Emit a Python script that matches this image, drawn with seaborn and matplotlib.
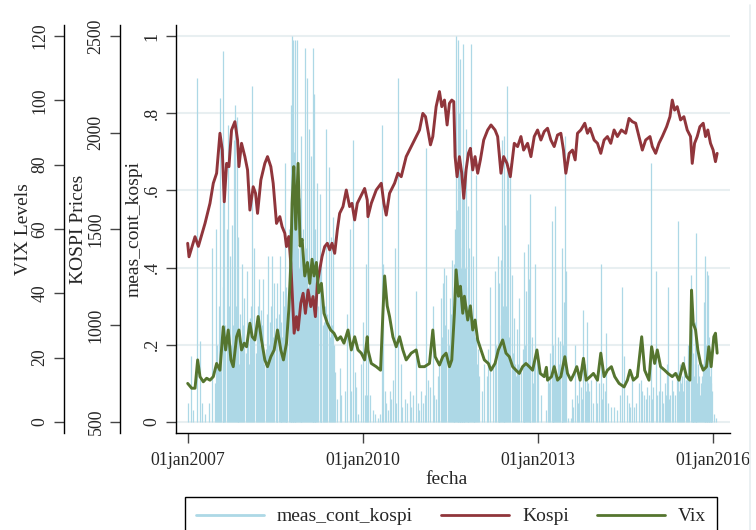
import numpy as np
import pandas as pd
import matplotlib
matplotlib.use("Agg")
import matplotlib.pyplot as plt
import seaborn as sns
from matplotlib.lines import Line2D

# ---------------- data (decimal year, value) ----------------
kospi_points = [
    (2006.994, 1426), (2007.017, 1356), (2007.120, 1460), (2007.177, 1410), (2007.291, 1529),
    (2007.376, 1633), (2007.433, 1737), (2007.490, 1789), (2007.547, 1996), (2007.587, 1909),
    (2007.621, 1641), (2007.661, 1840), (2007.701, 1823), (2007.746, 2013), (2007.803, 2056),
    (2007.849, 1961), (2007.872, 1823), (2007.917, 1944), (2007.974, 1875), (2008.020, 1806),
    (2008.060, 1598), (2008.117, 1719), (2008.157, 1685), (2008.191, 1581), (2008.248, 1754),
    (2008.316, 1840), (2008.362, 1875), (2008.419, 1823), (2008.459, 1737), (2008.516, 1529),
    (2008.573, 1564), (2008.612, 1512), (2008.658, 1478), (2008.687, 1409), (2008.726, 1461),
    (2008.761, 1322), (2008.783, 1184), (2008.818, 960), (2008.858, 1046), (2008.886, 977),
    (2008.932, 1115), (2008.972, 1167), (2009.011, 1063), (2009.057, 1184), (2009.103, 1098),
    (2009.142, 1150), (2009.182, 1046), (2009.216, 1219), (2009.256, 1288), (2009.296, 1357),
    (2009.342, 1409), (2009.387, 1426), (2009.427, 1392), (2009.467, 1426), (2009.513, 1374),
    (2009.558, 1495), (2009.598, 1581), (2009.655, 1616), (2009.712, 1702), (2009.769, 1616),
    (2009.809, 1633), (2009.855, 1547), (2009.900, 1633), (2009.957, 1668), (2010.026, 1710),
    (2010.071, 1650), (2010.083, 1564), (2010.140, 1633), (2010.225, 1702), (2010.311, 1737),
    (2010.356, 1633), (2010.396, 1572), (2010.453, 1685), (2010.539, 1737), (2010.596, 1789),
    (2010.653, 1771), (2010.738, 1875), (2010.824, 1927), (2010.909, 1979), (2010.966, 2013),
    (2011.023, 2099), (2011.069, 2082), (2011.109, 2013), (2011.154, 1936), (2011.194, 1979),
    (2011.251, 2134), (2011.308, 2212), (2011.348, 2134), (2011.394, 2168), (2011.439, 2039),
    (2011.479, 2151), (2011.519, 2168), (2011.553, 2160), (2011.576, 1875), (2011.610, 1771),
    (2011.650, 1875), (2011.690, 1789), (2011.724, 1659), (2011.764, 1806), (2011.804, 1892),
    (2011.838, 1918), (2011.878, 1806), (2011.918, 1875), (2011.963, 1789), (2012.009, 1858),
    (2012.066, 1961), (2012.134, 2013), (2012.191, 2039), (2012.260, 2013), (2012.305, 1979),
    (2012.362, 1789), (2012.408, 1875), (2012.465, 1840), (2012.522, 1771), (2012.590, 1944),
    (2012.647, 1927), (2012.704, 1979), (2012.750, 1909), (2012.818, 1944), (2012.875, 1875),
    (2012.932, 1979), (2012.989, 2013), (2013.046, 1961), (2013.103, 2005), (2013.160, 2022),
    (2013.217, 1961), (2013.274, 1927), (2013.331, 1987), (2013.388, 1996), (2013.433, 1909),
    (2013.473, 1789), (2013.530, 1892), (2013.587, 1909), (2013.633, 1858), (2013.673, 1996),
    (2013.730, 2013), (2013.798, 2048), (2013.844, 1996), (2013.889, 2022), (2013.958, 1961),
    (2014.015, 1944), (2014.072, 1892), (2014.129, 1961), (2014.186, 1979), (2014.243, 1944),
    (2014.300, 2013), (2014.357, 1979), (2014.425, 2013), (2014.499, 1996), (2014.556, 2073),
    (2014.613, 2056), (2014.670, 2048), (2014.727, 1979), (2014.784, 1909), (2014.841, 1961),
    (2014.915, 1979), (2014.955, 1927), (2015.012, 1892), (2015.069, 1944), (2015.126, 1979),
    (2015.200, 2030), (2015.257, 2082), (2015.297, 2168), (2015.337, 2116), (2015.382, 2134),
    (2015.439, 2065), (2015.496, 2082), (2015.553, 2013), (2015.610, 1979), (2015.639, 1840),
    (2015.679, 1944), (2015.724, 1979), (2015.770, 2030), (2015.827, 2048), (2015.867, 1979),
    (2015.906, 2013), (2015.952, 1944), (2015.997, 1909), (2016.037, 1849), (2016.066, 1892),
]

vix_points = [
    (2006.994, 12.0), (2007.063, 10.5), (2007.120, 10.5), (2007.165, 19.3), (2007.205, 14.1),
    (2007.262, 12.5), (2007.319, 13.6), (2007.376, 13.0), (2007.433, 14.1), (2007.490, 18.2),
    (2007.547, 16.1), (2007.604, 29.6), (2007.644, 22.4), (2007.689, 28.6), (2007.735, 19.3),
    (2007.775, 17.2), (2007.832, 26.5), (2007.872, 28.6), (2007.917, 22.4), (2007.963, 24.5),
    (2008.003, 23.4), (2008.060, 30.7), (2008.100, 26.5), (2008.145, 25.5), (2008.202, 32.8),
    (2008.259, 25.5), (2008.316, 19.3), (2008.362, 17.2), (2008.419, 20.3), (2008.476, 22.4),
    (2008.533, 28.6), (2008.590, 22.4), (2008.635, 19.3), (2008.687, 24.5), (2008.726, 34.8),
    (2008.761, 49.3), (2008.783, 68.0), (2008.812, 79.4), (2008.846, 59.9), (2008.886, 80.4),
    (2008.920, 54.7), (2008.954, 56.8), (2009.000, 45.4), (2009.046, 49.6), (2009.086, 43.1),
    (2009.125, 50.6), (2009.159, 45.4), (2009.199, 49.6), (2009.239, 40.2), (2009.285, 43.1),
    (2009.330, 33.8), (2009.387, 30.7), (2009.444, 28.6), (2009.501, 27.6), (2009.558, 25.5),
    (2009.615, 26.5), (2009.672, 24.5), (2009.741, 28.6), (2009.798, 22.4), (2009.855, 26.5),
    (2009.912, 22.4), (2009.969, 21.4), (2010.026, 19.3), (2010.071, 26.5), (2010.083, 22.4),
    (2010.140, 18.2), (2010.225, 17.2), (2010.299, 16.1), (2010.339, 33.8), (2010.368, 45.4),
    (2010.413, 36.1), (2010.453, 32.8), (2010.510, 26.5), (2010.567, 23.4), (2010.624, 26.5),
    (2010.681, 22.4), (2010.738, 19.3), (2010.824, 21.4), (2010.909, 22.4), (2010.966, 17.2),
    (2011.052, 17.2), (2011.137, 18.2), (2011.194, 28.6), (2011.234, 20.3), (2011.308, 17.7),
    (2011.365, 20.3), (2011.422, 21.4), (2011.479, 17.2), (2011.519, 19.3), (2011.564, 33.8),
    (2011.593, 47.3), (2011.633, 39.1), (2011.667, 42.2), (2011.707, 33.8), (2011.735, 39.1),
    (2011.792, 31.7), (2011.838, 36.1), (2011.878, 28.6), (2011.918, 31.7), (2011.963, 25.5),
    (2012.020, 22.4), (2012.077, 19.3), (2012.146, 18.2), (2012.191, 16.1), (2012.260, 18.2),
    (2012.317, 22.4), (2012.391, 25.5), (2012.448, 21.4), (2012.505, 20.3), (2012.562, 17.2),
    (2012.619, 16.1), (2012.676, 15.1), (2012.733, 17.2), (2012.790, 18.2), (2012.847, 17.2),
    (2012.904, 16.1), (2012.978, 22.4), (2013.035, 15.1), (2013.103, 14.1), (2013.140, 17.0),
    (2013.160, 13.0), (2013.228, 14.1), (2013.274, 17.2), (2013.331, 13.0), (2013.388, 14.1),
    (2013.456, 20.3), (2013.502, 15.1), (2013.559, 13.0), (2013.616, 15.1), (2013.661, 17.2),
    (2013.718, 13.0), (2013.775, 19.8), (2013.821, 13.0), (2013.889, 14.1), (2013.946, 15.1),
    (2014.015, 13.0), (2014.072, 21.4), (2014.129, 14.1), (2014.186, 16.1), (2014.254, 17.2),
    (2014.311, 14.1), (2014.385, 12.0), (2014.471, 10.9), (2014.528, 13.0), (2014.573, 16.1),
    (2014.630, 13.0), (2014.698, 14.1), (2014.773, 26.5), (2014.824, 16.1), (2014.898, 13.0),
    (2014.943, 23.4), (2014.995, 18.2), (2015.040, 22.4), (2015.097, 17.2), (2015.166, 16.1),
    (2015.223, 15.1), (2015.297, 14.1), (2015.354, 15.1), (2015.411, 13.0), (2015.485, 18.2),
    (2015.542, 14.1), (2015.599, 13.0), (2015.627, 41.0), (2015.656, 30.7), (2015.696, 28.6),
    (2015.735, 22.4), (2015.781, 18.2), (2015.827, 16.1), (2015.884, 17.2), (2015.923, 23.4),
    (2015.963, 17.2), (2016.009, 26.5), (2016.037, 27.6), (2016.066, 21.4),
]

meas_points = [
    (2007.006, 0.05), (2007.051, 0.17), (2007.091, 0.03), (2007.154, 0.89), (2007.199, 0.21),
    (2007.234, 0.05), (2007.291, 0.02), (2007.359, 0.05), (2007.416, 0.45), (2007.462, 0.10),
    (2007.473, 0.50), (2007.490, 0.20), (2007.519, 0.15), (2007.536, 0.30), (2007.553, 0.84),
    (2007.570, 0.20), (2007.593, 0.96), (2007.604, 0.35), (2007.621, 0.57), (2007.638, 0.25),
    (2007.661, 0.50), (2007.678, 0.77), (2007.695, 0.30), (2007.718, 0.43), (2007.735, 0.20),
    (2007.746, 0.51), (2007.764, 0.25), (2007.781, 0.73), (2007.803, 0.82), (2007.821, 0.30),
    (2007.832, 0.79), (2007.849, 0.22), (2007.860, 0.48), (2007.877, 0.15), (2007.889, 0.28),
    (2007.906, 0.20), (2007.929, 0.41), (2007.946, 0.25), (2007.963, 0.32), (2007.986, 0.18),
    (2008.003, 0.39), (2008.020, 0.22), (2008.043, 0.15), (2008.060, 0.27), (2008.077, 0.30),
    (2008.100, 0.87), (2008.117, 0.22), (2008.134, 0.45), (2008.157, 0.18), (2008.174, 0.26),
    (2008.191, 0.30), (2008.214, 0.37), (2008.231, 0.20), (2008.248, 0.29), (2008.271, 0.25),
    (2008.288, 0.37), (2008.305, 0.15), (2008.328, 0.19), (2008.345, 0.28), (2008.373, 0.43),
    (2008.385, 0.20), (2008.402, 0.26), (2008.419, 0.30), (2008.442, 0.43), (2008.459, 0.22),
    (2008.476, 0.36), (2008.499, 0.27), (2008.516, 0.20), (2008.533, 0.36), (2008.556, 0.28),
    (2008.573, 0.43), (2008.590, 0.18), (2008.601, 0.26), (2008.618, 0.22), (2008.630, 0.34),
    (2008.647, 0.30), (2008.658, 0.67), (2008.675, 0.35), (2008.687, 0.24), (2008.704, 0.28),
    (2008.726, 0.50), (2008.744, 0.40), (2008.761, 0.82), (2008.772, 0.60), (2008.783, 1.00),
    (2008.795, 0.45), (2008.806, 0.99), (2008.818, 0.70), (2008.829, 0.50), (2008.840, 0.99),
    (2008.858, 0.55), (2008.875, 0.99), (2008.892, 0.45), (2008.903, 0.40), (2008.914, 0.58),
    (2008.932, 0.35), (2008.943, 0.74), (2008.960, 0.45), (2008.977, 0.50), (2008.994, 0.40),
    (2009.011, 0.97), (2009.028, 0.45), (2009.046, 0.89), (2009.057, 0.35), (2009.068, 0.76),
    (2009.086, 0.40), (2009.103, 0.69), (2009.120, 0.38), (2009.137, 0.97), (2009.148, 0.42),
    (2009.159, 0.85), (2009.171, 0.35), (2009.182, 0.50), (2009.199, 0.40), (2009.216, 0.62),
    (2009.234, 0.30), (2009.256, 0.59), (2009.274, 0.35), (2009.285, 0.41), (2009.308, 0.25),
    (2009.330, 0.26), (2009.348, 0.30), (2009.370, 0.76), (2009.387, 0.28), (2009.410, 0.66),
    (2009.427, 0.22), (2009.444, 0.48), (2009.462, 0.25), (2009.484, 0.53), (2009.496, 0.20),
    (2009.513, 0.13), (2009.558, 0.06), (2009.598, 0.14), (2009.627, 0.07), (2009.684, 0.08),
    (2009.729, 0.28), (2009.769, 0.50), (2009.798, 0.08), (2009.826, 0.73), (2009.855, 0.13),
    (2009.883, 0.09), (2009.912, 0.02), (2009.969, 0.15), (2009.997, 0.26), (2010.026, 0.07),
    (2010.054, 0.41), (2010.071, 0.07), (2010.083, 0.53), (2010.111, 0.07), (2010.168, 0.03),
    (2010.197, 0.02), (2010.254, 0.01), (2010.282, 0.02), (2010.322, 0.77), (2010.339, 0.41),
    (2010.368, 0.08), (2010.396, 0.05), (2010.425, 0.03), (2010.453, 0.08), (2010.482, 0.06),
    (2010.510, 0.11), (2010.550, 0.45), (2010.567, 0.05), (2010.596, 0.89), (2010.641, 0.15),
    (2010.670, 0.04), (2010.710, 0.06), (2010.755, 0.05), (2010.795, 0.08), (2010.824, 0.04),
    (2010.852, 0.07), (2010.898, 0.34), (2010.938, 0.05), (2010.966, 0.03), (2010.995, 0.08),
    (2011.023, 0.05), (2011.052, 0.07), (2011.074, 0.71), (2011.109, 0.11), (2011.154, 0.09),
    (2011.194, 0.30), (2011.223, 0.07), (2011.251, 0.06), (2011.280, 0.12), (2011.308, 0.15),
    (2011.337, 0.32), (2011.354, 0.22), (2011.371, 0.36), (2011.394, 0.40), (2011.411, 0.25),
    (2011.422, 0.38), (2011.451, 0.24), (2011.468, 0.20), (2011.485, 0.32), (2011.502, 0.28),
    (2011.519, 0.42), (2011.536, 0.30), (2011.553, 0.41), (2011.564, 0.35), (2011.582, 0.50),
    (2011.599, 1.00), (2011.610, 0.55), (2011.621, 0.99), (2011.633, 0.45), (2011.644, 0.80),
    (2011.656, 0.50), (2011.667, 0.94), (2011.678, 0.40), (2011.690, 0.58), (2011.701, 0.45),
    (2011.713, 0.98), (2011.724, 0.35), (2011.735, 0.65), (2011.752, 0.40), (2011.764, 0.76),
    (2011.781, 0.30), (2011.792, 0.56), (2011.804, 0.35), (2011.815, 0.45), (2011.832, 0.30),
    (2011.849, 0.98), (2011.866, 0.25), (2011.878, 0.43), (2011.895, 0.20), (2011.906, 0.24),
    (2011.923, 0.22), (2011.935, 0.64), (2011.952, 0.15), (2011.963, 0.19), (2011.992, 0.12),
    (2012.032, 0.08), (2012.077, 0.15), (2012.123, 0.12), (2012.146, 0.19), (2012.180, 0.35),
    (2012.220, 0.15), (2012.260, 0.39), (2012.277, 0.20), (2012.305, 0.43), (2012.322, 0.25),
    (2012.334, 0.36), (2012.351, 0.20), (2012.362, 0.42), (2012.379, 0.73), (2012.396, 0.30),
    (2012.408, 0.74), (2012.419, 0.25), (2012.431, 0.51), (2012.448, 0.30), (2012.465, 0.87),
    (2012.488, 0.65), (2012.505, 0.22), (2012.522, 0.67), (2012.545, 0.38), (2012.562, 0.18),
    (2012.579, 0.27), (2012.602, 0.15), (2012.619, 0.12), (2012.636, 0.24), (2012.659, 0.15),
    (2012.676, 0.32), (2012.704, 0.13), (2012.733, 0.19), (2012.750, 0.15), (2012.761, 0.44),
    (2012.778, 0.20), (2012.795, 0.34), (2012.807, 0.15), (2012.818, 0.46), (2012.841, 0.37),
    (2012.852, 0.20), (2012.864, 0.59), (2012.887, 0.22), (2012.904, 0.10), (2012.921, 0.15),
    (2012.943, 0.41), (2012.978, 0.17), (2013.000, 0.15), (2013.046, 0.07), (2013.131, 0.03),
    (2013.160, 0.12), (2013.188, 0.10), (2013.206, 0.18), (2013.228, 0.52), (2013.245, 0.20),
    (2013.257, 0.15), (2013.274, 0.15), (2013.285, 0.56), (2013.308, 0.11), (2013.325, 0.12),
    (2013.342, 0.22), (2013.359, 0.15), (2013.377, 0.21), (2013.399, 0.18), (2013.416, 0.45),
    (2013.433, 0.20), (2013.445, 0.31), (2013.456, 0.74), (2013.473, 0.39), (2013.502, 0.01),
    (2013.559, 0.01), (2013.587, 0.06), (2013.604, 0.04), (2013.633, 0.20), (2013.661, 0.07),
    (2013.684, 0.05), (2013.701, 0.11), (2013.730, 0.09), (2013.747, 0.06), (2013.764, 0.29),
    (2013.798, 0.15), (2013.815, 0.08), (2013.832, 0.26), (2013.855, 0.10), (2013.872, 0.08),
    (2013.901, 0.11), (2013.946, 0.05), (2013.986, 0.11), (2014.015, 0.05), (2014.043, 0.10),
    (2014.077, 0.41), (2014.100, 0.06), (2014.117, 0.10), (2014.140, 0.08), (2014.157, 0.23),
    (2014.197, 0.05), (2014.243, 0.04), (2014.300, 0.04), (2014.357, 0.03), (2014.402, 0.07),
    (2014.436, 0.35), (2014.471, 0.17), (2014.516, 0.07), (2014.556, 0.05), (2014.573, 0.04),
    (2014.613, 0.11), (2014.641, 0.04), (2014.670, 0.05), (2014.727, 0.10), (2014.755, 0.11),
    (2014.784, 0.08), (2014.812, 0.07), (2014.841, 0.06), (2014.869, 0.09), (2014.904, 0.07),
    (2014.932, 0.67), (2014.955, 0.06), (2014.972, 0.09), (2015.012, 0.39), (2015.040, 0.07),
    (2015.069, 0.08), (2015.086, 0.15), (2015.126, 0.08), (2015.143, 0.05), (2015.166, 0.10),
    (2015.183, 0.07), (2015.200, 0.15), (2015.217, 0.35), (2015.240, 0.06), (2015.257, 0.07),
    (2015.297, 0.11), (2015.314, 0.08), (2015.337, 0.07), (2015.371, 0.13), (2015.394, 0.52),
    (2015.411, 0.08), (2015.428, 0.15), (2015.451, 0.10), (2015.468, 0.12), (2015.485, 0.08),
    (2015.496, 0.17), (2015.525, 0.11), (2015.542, 0.12), (2015.565, 0.20), (2015.587, 0.15),
    (2015.610, 0.38), (2015.627, 0.24), (2015.644, 0.18), (2015.656, 0.15), (2015.667, 0.12),
    (2015.679, 0.26), (2015.696, 0.20), (2015.707, 0.49), (2015.724, 0.10), (2015.735, 0.15),
    (2015.753, 0.12), (2015.770, 0.07), (2015.787, 0.10), (2015.804, 0.12), (2015.821, 0.15),
    (2015.838, 0.31), (2015.850, 0.18), (2015.861, 0.43), (2015.872, 0.20), (2015.884, 0.39),
    (2015.895, 0.15), (2015.906, 0.38), (2015.918, 0.22), (2015.929, 0.19), (2015.941, 0.12),
    (2015.952, 0.15), (2015.969, 0.10), (2015.980, 0.08), (2016.009, 0.02), (2016.043, 0.01),
]

x_tick_dates = ["2007-01-01", "2010-01-01", "2013-01-01", "2016-01-01"]
x_tick_labels = ["01jan2007", "01jan2010", "01jan2013", "01jan2016"]
meas_ticks = [0, 0.2, 0.4, 0.6, 0.8, 1.0]
meas_tick_labels = ["0", ".2", ".4", ".6", ".8", "1"]
kospi_ticks = [500, 1000, 1500, 2000, 2500]
vix_ticks = [0, 20, 40, 60, 80, 100, 120]
legend_labels = ["meas_cont_kospi", "Kospi", "Vix"]


def to_date(years):
    years = np.asarray(years, dtype=float)
    return pd.Timestamp("2007-01-01") + pd.to_timedelta((years - 2007.0) * 365.25, unit="D")


def frame(points, name):
    yrs, vals = zip(*points)
    return pd.DataFrame({"fecha": to_date(yrs), name: vals}).sort_values("fecha")


kospi_df = frame(kospi_points, "Kospi")
vix_df = frame(vix_points, "Vix")
meas_df = frame(meas_points, "meas_cont_kospi")

# ---------------- style ----------------
sns.set_style("ticks")
plt.rcParams["font.family"] = ["Liberation Serif", "DejaVu Serif"]

C_MEAS = "#add8e6"
C_KOSPI = "#90353b"
C_VIX = "#55752f"
C_GRID = "#e8eff1"

W, H = 756, 530
fig = plt.figure(figsize=(W / 100, H / 100), dpi=100)
L, R, T, B = 176, 730, 25, 433
ax = fig.add_axes([L / W, 1 - B / H, (R - L) / W, (B - T) / H])
ax_k = ax.twinx()
ax_v = ax.twinx()

# meas spikes
ax.vlines(meas_df["fecha"], 0, meas_df["meas_cont_kospi"], color=C_MEAS, lw=0.9, zorder=2)
sns.lineplot(data=kospi_df, x="fecha", y="Kospi", ax=ax_k, color=C_KOSPI, lw=2.1, legend=False)
sns.lineplot(data=vix_df, x="fecha", y="Vix", ax=ax_v, color=C_VIX, lw=2.1, legend=False)

lo, hi = -0.0285, 1.0285
ax.set_ylim(lo, hi)
ax_k.set_ylim(500 + 2000 * lo, 500 + 2000 * hi)
ax_v.set_ylim(120 * lo, 120 * hi)
ax.set_xlim(to_date([2006.794])[0], to_date([2016.286])[0])

ax.set_xticks(pd.to_datetime(x_tick_dates))
ax.set_xticklabels(x_tick_labels)
ax.set_yticks(meas_ticks)
ax.set_yticklabels(meas_tick_labels)
ax_k.set_yticks(kospi_ticks)
ax_k.set_yticklabels([str(t) for t in kospi_ticks])
ax_v.set_yticks(vix_ticks)
ax_v.set_yticklabels([str(t) for t in vix_ticks])

ax.grid(axis="y", color=C_GRID, lw=1.5)
ax.grid(axis="x", visible=False)
ax.set_axisbelow(True)

for a in (ax, ax_k, ax_v):
    for s in ("top", "right"):
        a.spines[s].set_visible(False)
    a.spines["left"].set_linewidth(1.0)
    a.spines["left"].set_color("black")
for a in (ax_k, ax_v):
    a.spines["bottom"].set_visible(False)
    a.yaxis.set_ticks_position("left")
    a.yaxis.set_label_position("left")
    a.spines["left"].set_visible(True)
ax.spines["bottom"].set_linewidth(1.0)
ax.spines["bottom"].set_color("black")
ax_k.spines["left"].set_position(("axes", (120 - L) / (R - L)))
ax_v.spines["left"].set_position(("axes", (64 - L) / (R - L)))

for a in (ax, ax_k, ax_v):
    a.tick_params(axis="y", left=True, right=False, length=7, width=1.0, color="#444444",
                  labelsize=12.8, pad=4)
    for lab in a.get_yticklabels():
        lab.set_rotation(90)
        lab.set_va("center")
ax.tick_params(axis="x", bottom=True, length=7, width=1.0, color="#444444", labelsize=12.8, pad=6.5)

ax.set_xlabel("fecha", fontsize=14)
ax.xaxis.set_label_coords((447 - L) / (R - L), -0.094)
ax.set_ylabel("meas_cont_kospi", fontsize=14)
ax.yaxis.set_label_coords((143 - L) / (R - L), 0.5)
ax_k.set_ylabel("KOSPI Prices", fontsize=14)
ax_k.yaxis.set_label_coords((87 - L) / (R - L), 0.5)
ax_v.set_ylabel("VIX Levels", fontsize=14)
ax_v.yaxis.set_label_coords((32 - L) / (R - L), 0.5)

handles = [Line2D([], [], color=C_MEAS, lw=2.0), Line2D([], [], color=C_KOSPI, lw=2.0),
           Line2D([], [], color=C_VIX, lw=2.0)]
leg = fig.legend(handles, legend_labels, loc="upper left", bbox_to_anchor=(185 / W, 1 - 497 / H),
                 ncol=3, frameon=True, fancybox=False, edgecolor="black", framealpha=1,
                 fontsize=14, handlelength=3.5, handletextpad=0.67, columnspacing=1.45,
                 borderpad=0.55, borderaxespad=0)
leg.get_frame().set_linewidth(1.0)

fig.add_artist(Line2D([750 / W, 750 / W], [0, 1 - 5 / H], transform=fig.transFigure,
                      color="#e6edf0", lw=1.2))

fig.savefig("out.png", dpi=100)
